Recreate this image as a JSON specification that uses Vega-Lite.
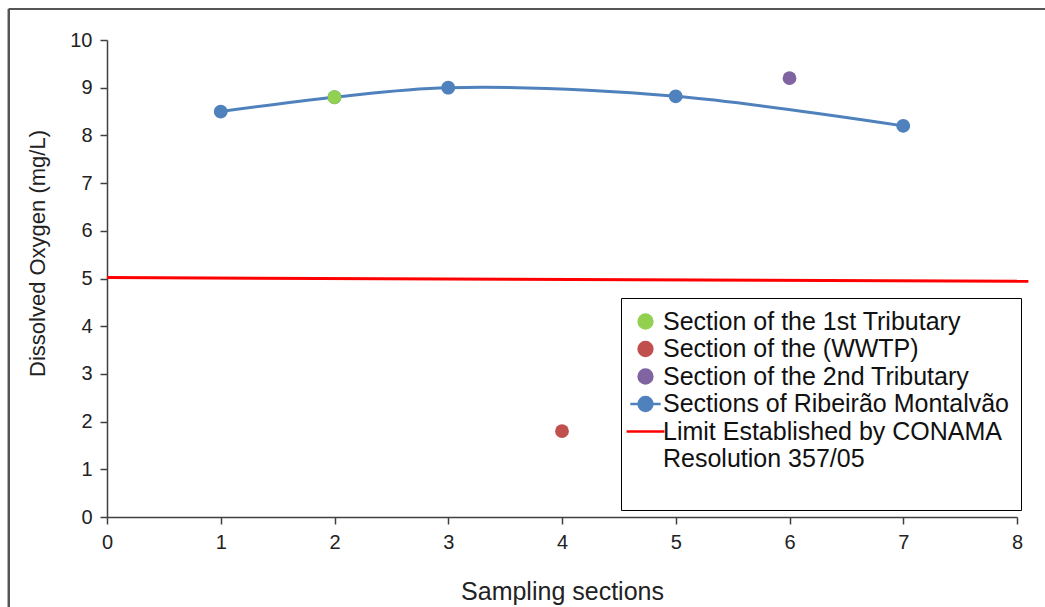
{
  "$schema": "https://vega.github.io/schema/vega-lite/v6.json",
  "width": 910,
  "height": 477,
  "autosize": "none",
  "padding": {"left": 107, "top": 40, "right": 28, "bottom": 90},
  "background": "white",
  "config": {
    "view": {"stroke": null},
    "font": "Liberation Sans",
    "axis": {"grid": false, "domainColor": "#404040", "tickColor": "#404040", "labelColor": "#222", "titleColor": "#222", "labelFont": "Liberation Sans", "titleFont": "Liberation Sans", "labelFontSize": 20, "titleFontSize": 22, "titleFontWeight": "normal", "tickSize": 7, "domainWidth": 1.5, "tickWidth": 1.5}
  },
  "data": {
    "values": [
      {"series": "Sections of Ribeirão Montalvão", "x": 1, "y": 8.5},
      {"series": "Sections of Ribeirão Montalvão", "x": 2, "y": 8.8},
      {"series": "Sections of Ribeirão Montalvão", "x": 3, "y": 9.0},
      {"series": "Sections of Ribeirão Montalvão", "x": 5, "y": 8.82},
      {"series": "Sections of Ribeirão Montalvão", "x": 7, "y": 8.2},
      {"series": "Section of the 1st Tributary", "x": 2, "y": 8.8},
      {"series": "Section of the (WWTP)", "x": 4, "y": 1.8},
      {"series": "Section of the 2nd Tributary", "x": 6, "y": 9.2},
      {"series": "Limit Established by CONAMA Resolution 357/05", "x": 0, "y": 5.02},
      {"series": "Limit Established by CONAMA Resolution 357/05", "x": 8.1, "y": 4.94}
    ]
  },
  "layer": [
    {
      "mark": {"type": "rule", "stroke": "#555", "strokeWidth": 2, "clip": false},
      "encoding": {
        "x": {"datum": -0.862, "type": "quantitative"},
        "x2": {"datum": 12},
        "y": {"datum": 10.65, "type": "quantitative"}
      }
    },
    {
      "mark": {"type": "rule", "stroke": "#555", "strokeWidth": 2, "clip": false},
      "encoding": {
        "x": {"datum": -0.862, "type": "quantitative"},
        "y": {"datum": 10.65, "type": "quantitative"},
        "y2": {"datum": -3}
      }
    },
    {
      "transform": [{"filter": "datum.series == 'Limit Established by CONAMA Resolution 357/05'"}],
      "mark": {"type": "line", "color": "#FF0000", "strokeWidth": 3, "clip": false},
      "encoding": {
        "x": {"field": "x", "type": "quantitative"},
        "y": {"field": "y", "type": "quantitative"}
      }
    },
    {
      "transform": [{"filter": "datum.series == 'Sections of Ribeirão Montalvão'"}],
      "mark": {"type": "line", "color": "#4F81BD", "strokeWidth": 3, "interpolate": "catmull-rom"},
      "encoding": {
        "x": {"field": "x", "type": "quantitative"},
        "y": {"field": "y", "type": "quantitative"}
      }
    },
    {
      "transform": [{"filter": "datum.series != 'Limit Established by CONAMA Resolution 357/05'"}],
      "mark": {"type": "point", "filled": true, "opacity": 1, "size": 190, "strokeWidth": 0},
      "encoding": {
        "x": {
          "field": "x", "type": "quantitative",
          "scale": {"domain": [0, 8], "nice": false, "zero": false},
          "axis": {"title": "Sampling sections", "format": "d", "values": [0,1,2,3,4,5,6,7,8], "labelFlush": false, "labelPadding": 8, "titlePadding": 27, "titleFontSize": 25}
        },
        "y": {
          "field": "y", "type": "quantitative",
          "scale": {"domain": [0, 10], "nice": false},
          "axis": {"title": "Dissolved Oxygen (mg/L)", "values": [0,1,2,3,4,5,6,7,8,9,10], "labelPadding": 8, "titlePadding": 20, "titleY": 213}
        },
        "shape": {
          "field": "series", "type": "nominal",
          "scale": {
            "domain": ["Section of the 1st Tributary", "Section of the (WWTP)", "Section of the 2nd Tributary", "Sections of Ribeirão Montalvão", "Limit Established by CONAMA Resolution 357/05"],
            "range": ["circle", "circle", "circle", "M-2.2,0L2.2,0M-1,0A1,1,0,1,0,1,0A1,1,0,1,0,-1,0Z", "M-2.75,0L2.75,0"]
          },
          "legend": {"title": null}
        },
        "stroke": {
          "field": "series", "type": "nominal",
          "scale": {
            "domain": ["Section of the 1st Tributary", "Section of the (WWTP)", "Section of the 2nd Tributary", "Sections of Ribeirão Montalvão", "Limit Established by CONAMA Resolution 357/05"],
            "range": ["#92D050", "#C0504D", "#8064A2", "#4F81BD", "#FF0000"]
          },
          "legend": {"title": null}
        },
        "color": {
          "field": "series", "type": "nominal",
          "scale": {
            "domain": ["Section of the 1st Tributary", "Section of the (WWTP)", "Section of the 2nd Tributary", "Sections of Ribeirão Montalvão", "Limit Established by CONAMA Resolution 357/05"],
            "range": ["#92D050", "#C0504D", "#8064A2", "#4F81BD", "#FF0000"]
          },
          "legend": {
            "title": null,
            "orient": "none",
            "legendX": 514,
            "legendY": 258,
            "padding": 11,
            "strokeColor": "#000",
            "fillColor": "white",
            "labelFont": "Liberation Sans",
            "labelFontSize": 25,
            "labelColor": "#111",
            "labelLimit": 500,
            "rowPadding": 1.5,
            "symbolSize": 190,
            "symbolStrokeWidth": 2.5,
            "symbolOffset": 1,
            "labelOffset": 5,
            "labelExpr": "datum.label == 'Limit Established by CONAMA Resolution 357/05' ? ['\u00a0\u00a0Limit Established by CONAMA', 'Resolution 357/05', ''] : datum.label"
          }
        }
      }
    }
  ]
}
